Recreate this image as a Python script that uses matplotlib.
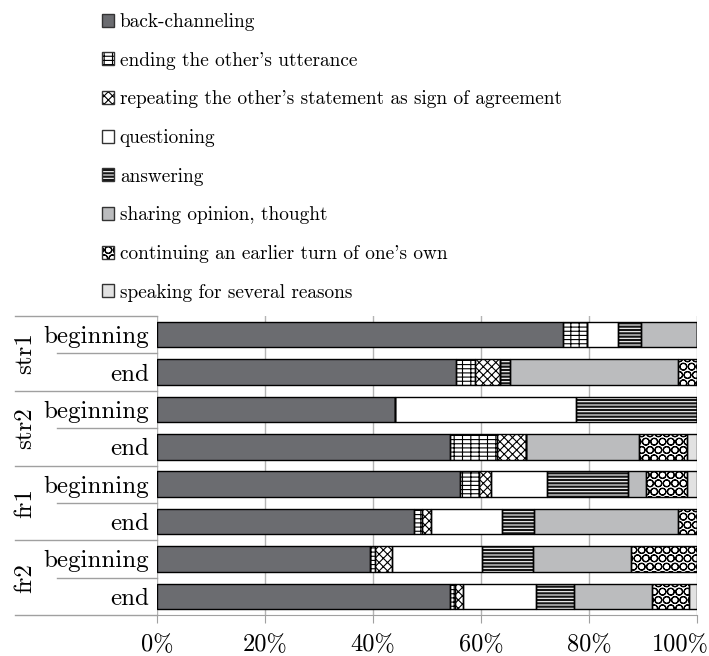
import matplotlib
matplotlib.use("Agg")
import matplotlib.pyplot as plt
import matplotlib.hatch
from matplotlib.patches import Patch
from matplotlib.legend_handler import HandlerTuple
import matplotlib.transforms as mtransforms

plt.rcParams['font.family'] = ['cmr10', 'DejaVu Serif']
plt.rcParams['axes.formatter.use_mathtext'] = True
plt.rcParams['hatch.linewidth'] = 0.8
matplotlib.hatch.LargeCircles.size = 0.42

groups = ['str1', 'str2', 'fr1', 'fr2']
phases = ['beginning', 'end']
categories = ['back-channeling',
              "ending the other's utterance",
              "repeating the other's statement as sign of agreement",
              'questioning',
              'answering',
              'sharing opinion, thought',
              "continuing an earlier turn of one's own",
              'speaking for several reasons']

# rows: str1 beg, str1 end, str2 beg, str2 end, fr1 beg, fr1 end, fr2 beg, fr2 end
back_channeling = [75.1, 55.4, 44.1, 54.3, 56.2, 47.5, 39.4, 54.3]
ending_utterance = [4.5, 3.4, 0.0, 8.6, 3.5, 1.6, 1.0, 0.9]
repeating = [0.0, 4.8, 0.0, 5.4, 2.1, 1.6, 3.1, 1.4]
questioning = [5.7, 0.0, 33.4, 0.0, 10.5, 13.2, 16.7, 13.5]
answering = [4.3, 1.8, 22.5, 0.0, 14.9, 6.0, 9.4, 7.2]
sharing = [10.4, 31.0, 0.0, 21.0, 3.4, 26.6, 18.2, 14.4]
continuing = [0.0, 3.6, 0.0, 8.8, 7.5, 3.5, 12.2, 6.9]
several = [0.0, 0.0, 0.0, 1.9, 1.9, 0.0, 0.0, 1.4]

series = [back_channeling, ending_utterance, repeating, questioning,
          answering, sharing, continuing, several]

# (facecolor, hatch, hatchcolor)
styles = [('#6b6c70', None, 'black'),
          ('white', '----||', 'black'),
          ('white', 'xxxx', 'black'),
          ('white', None, 'black'),
          ('#151515', '-----', 'white'),
          ('#bbbcbe', None, 'black'),
          ('white', 'OO', 'black'),
          ('#e2e2e2', None, 'black')]

fig = plt.figure(figsize=(7.09, 6.56), dpi=100)
W, H = 709, 656
ax = fig.add_axes([157 / W, 41 / H, 540 / W, 299 / H])

rows = list(range(len(groups) * len(phases)))
left = [0.0] * len(rows)
handles = []
for vals, (fc, hatch, hc), lab in zip(series, styles, categories):
    ax.barh(rows, vals, left=left, height=0.68, facecolor=fc, hatch=hatch,
            edgecolor=hc, linewidth=0, zorder=2)
    ax.barh(rows, vals, left=left, height=0.68, fill=False,
            edgecolor='black', linewidth=1.0, zorder=3)
    left = [l + v for l, v in zip(left, vals)]
    h1 = Patch(facecolor=fc, hatch=hatch, edgecolor=hc, linewidth=0)
    h2 = Patch(fill=False, edgecolor='#333333', linewidth=1.0)
    handles.append((h1, h2))

ax.set_xlim(0, 100)
ax.set_ylim(7.5, -0.5)
ax.set_xticks([0, 20, 40, 60, 80, 100])
ax.set_xticklabels(['0%', '20%', '40%', '60%', '80%', '100%'], fontsize=17.5)
ax.set_yticks(rows)
ax.set_yticklabels(phases * len(groups), fontsize=18)
ax.tick_params(axis='y', length=0, pad=6)
ax.tick_params(axis='x', length=6, color='#a0a0a0', pad=7.5)
ax.grid(axis='x', color='#b4b4b4', linewidth=1.0, zorder=0)
ax.set_axisbelow(True)
for s in ['top', 'right', 'left']:
    ax.spines[s].set_visible(False)
ax.spines['bottom'].set_color('#a0a0a0')

# shift the last tick label left so it stays inside the figure
last = ax.get_xticklabels()[-1]
last.set_transform(last.get_transform() +
                   mtransforms.ScaledTranslation(-0.17, 0, fig.dpi_scale_trans))

trans = mtransforms.blended_transform_factory(ax.transAxes, ax.transData)
x_group = (15 - 157) / 540
x_phase = (57 - 157) / 540
for b in [-0.5, 1.5, 3.5, 5.5, 7.5]:
    ax.plot([x_group, 0], [b, b], color='#a0a0a0', linewidth=1.0,
            transform=trans, clip_on=False)
for b in [0.5, 2.5, 4.5, 6.5]:
    ax.plot([x_phase, 0], [b, b], color='#a0a0a0', linewidth=1.0,
            transform=trans, clip_on=False)
for gi, g in enumerate(groups):
    ax.text((25 - 157) / 540, 2 * gi + 0.5, g, rotation=90, fontsize=18,
            ha='center', va='center', transform=trans)

fig.legend(handles, categories, loc='upper left',
           bbox_to_anchor=(101.5 / W, 1 - 13 / H), frameon=False,
           fontsize=13.9, handler_map={tuple: HandlerTuple(ndivide=1)},
           handlelength=0.65, handleheight=0.65, handletextpad=0.3,
           labelspacing=1.07, borderpad=0, borderaxespad=0)

fig.savefig('out.png', dpi=100)
